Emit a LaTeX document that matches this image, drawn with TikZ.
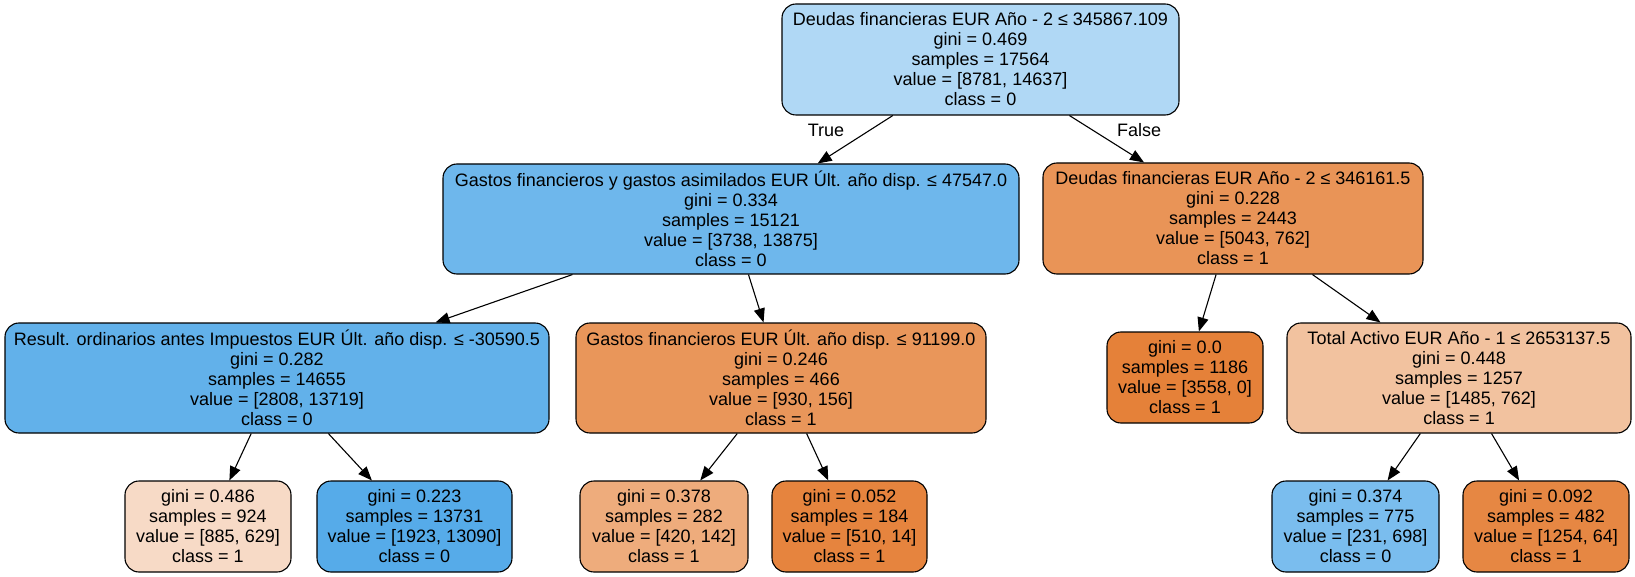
\documentclass[tikz,border=0pt]{standalone}
\usepackage{fontspec}
\setmainfont{Liberation Sans}
\usetikzlibrary{arrows.meta}
\definecolor{c0}{RGB}{176,216,245}
\definecolor{c1}{RGB}{110,183,236}
\definecolor{c2}{RGB}{233,148,87}
\definecolor{c3}{RGB}{98,177,234}
\definecolor{c4}{RGB}{233,150,90}
\definecolor{c5}{RGB}{229,129,57}
\definecolor{c6}{RGB}{242,194,159}
\definecolor{c7}{RGB}{247,218,198}
\definecolor{c8}{RGB}{86,171,233}
\definecolor{c9}{RGB}{238,172,124}
\definecolor{c10}{RGB}{230,132,62}
\definecolor{c11}{RGB}{122,189,238}
\definecolor{c12}{RGB}{230,135,67}
\begin{document}
\begin{tikzpicture}[x=1pt,y=-1pt,
  treenode/.style={draw=black, line width=1.1pt, rounded corners=14pt, align=center,
    inner sep=0pt, font=\fontsize{18}{20}\selectfont},
  conn/.style={-{Triangle[length=14pt,width=11pt]}, line width=1.1pt},
  elabel/.style={font=\fontsize{18}{20}\selectfont, inner sep=0pt}]
\useasboundingbox (0,0) rectangle (1635,577);
\node[treenode, fill=c0, minimum width=397pt, minimum height=111pt] (root) at (980.5,59.5)
  {Deudas financieras EUR Año - 2 ≤ 345867.109\\gini = 0.469\\samples = 17564\\value = [8781, 14637]\\class = 0};
\node[treenode, fill=c1, minimum width=576pt, minimum height=110pt] (n1) at (731,219)
  {Gastos financieros y gastos asimilados EUR Últ. año disp. ≤ 47547.0\\gini = 0.334\\samples = 15121\\value = [3738, 13875]\\class = 0};
\node[treenode, fill=c2, minimum width=380pt, minimum height=111pt] (n2) at (1233,218.5)
  {Deudas financieras EUR Año - 2 ≤ 346161.5\\gini = 0.228\\samples = 2443\\value = [5043, 762]\\class = 1};
\node[treenode, fill=c3, minimum width=544pt, minimum height=110pt] (n3) at (277,378)
  {Result. ordinarios antes Impuestos EUR Últ. año disp. ≤ -30590.5\\gini = 0.282\\samples = 14655\\value = [2808, 13719]\\class = 0};
\node[treenode, fill=c4, minimum width=410pt, minimum height=110pt] (n4) at (781,378)
  {Gastos financieros EUR Últ. año disp. ≤ 91199.0\\gini = 0.246\\samples = 466\\value = [930, 156]\\class = 1};
\node[treenode, fill=c5, minimum width=156pt, minimum height=91pt] (n5) at (1185,377.5)
  {gini = 0.0\\samples = 1186\\value = [3558, 0]\\class = 1};
\node[treenode, fill=c6, minimum width=344pt, minimum height=110pt] (n6) at (1459,378)
  {Total Activo EUR Año - 1 ≤ 2653137.5\\gini = 0.448\\samples = 1257\\value = [1485, 762]\\class = 1};
\node[treenode, fill=c7, minimum width=166pt, minimum height=91pt] (l1) at (208,526.5)
  {gini = 0.486\\samples = 924\\value = [885, 629]\\class = 1};
\node[treenode, fill=c8, minimum width=195pt, minimum height=91pt] (l2) at (414.5,526.5)
  {gini = 0.223\\samples = 13731\\value = [1923, 13090]\\class = 0};
\node[treenode, fill=c9, minimum width=168pt, minimum height=91pt] (l3) at (664,526.5)
  {gini = 0.378\\samples = 282\\value = [420, 142]\\class = 1};
\node[treenode, fill=c10, minimum width=155pt, minimum height=91pt] (l4) at (849.5,526.5)
  {gini = 0.052\\samples = 184\\value = [510, 14]\\class = 1};
\node[treenode, fill=c11, minimum width=167pt, minimum height=91pt] (l5) at (1355.5,526.5)
  {gini = 0.374\\samples = 775\\value = [231, 698]\\class = 0};
\node[treenode, fill=c12, minimum width=166pt, minimum height=91pt] (l6) at (1546,526.5)
  {gini = 0.092\\samples = 482\\value = [1254, 64]\\class = 1};
\draw[conn] (root) -- (n1);
\draw[conn] (root) -- (n2);
\draw[conn] (n1) -- (n3);
\draw[conn] (n1) -- (n4);
\draw[conn] (n2) -- (n5);
\draw[conn] (n2) -- (n6);
\draw[conn] (n3) -- (l1);
\draw[conn] (n3) -- (l2);
\draw[conn] (n4) -- (l3);
\draw[conn] (n4) -- (l4);
\draw[conn] (n6) -- (l5);
\draw[conn] (n6) -- (l6);
\node[elabel] (tl) at (826,130) {True};
\node[elabel] (fl) at (1139,130) {False};
\end{tikzpicture}
\end{document}
